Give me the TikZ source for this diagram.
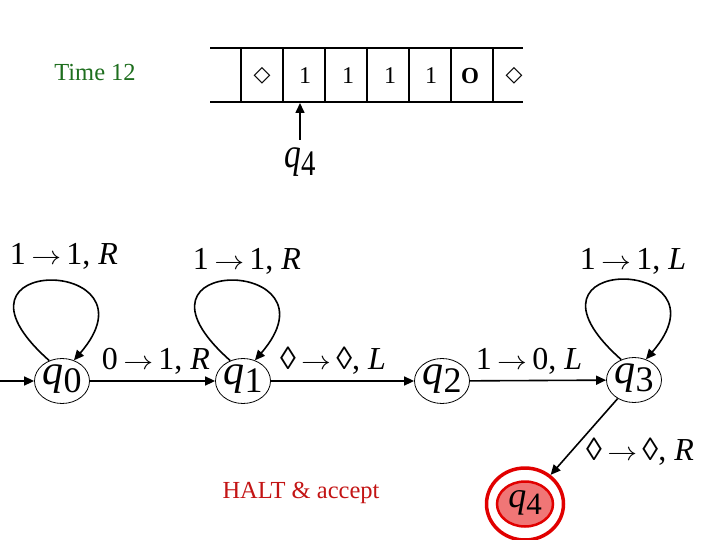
\documentclass[tikz,border=0pt]{standalone}
\usepackage{fontspec}
\setmainfont{Liberation Serif}
\newfontfamily\djv{DejaVu Sans}
\usepackage{graphicx}
\usetikzlibrary{arrows.meta,shapes.geometric}

\definecolor{timegreen}{RGB}{30,110,30}
\definecolor{haltred}{RGB}{195,20,20}
\definecolor{ringred}{RGB}{225,0,0}
\definecolor{qfourfill}{RGB}{240,118,118}

% q with subscript: #1 q size, #2 digit size, #3 digit drop, #4 digit
\newcommand\qlab[4]{{\fontsize{#1}{#1}\selectfont\textit{q}}\raisebox{-#3}{\fontsize{#2}{#2}\selectfont #4}}
\newcommand\inbox[2]{\smash{\makebox[0pt]{\raisebox{-#1}{#2}}}}
\newcommand\arr{\,\scalebox{1.2}[1.05]{$\rightarrow$}\,}
\newcommand\lz{◊}

\tikzset{
  state/.style={ellipse, draw, line width=0.8pt, inner sep=0pt,
    minimum width=55pt, minimum height=45pt},
  conn/.style={line width=1.6pt, -{Triangle[length=10pt,width=9pt]}},
  lbl/.style={inner sep=0pt, font=\fontsize{32}{34}\selectfont},
  tapeline/.style={line width=1.1pt},
  cell/.style={inner sep=0pt, font=\fontsize{24}{26}\selectfont},
}

\begin{document}
\begin{tikzpicture}[x=1pt,y=-1pt]
\useasboundingbox (0,0) rectangle (720,540);

% title
\node[inner sep=0pt, text=timegreen, font=\fontsize{24.5}{26}\selectfont] (time) at (95,73) {Time 12};

% tape
\draw[tapeline] (210,48) -- (523,48);
\draw[tapeline] (210,102) -- (523,102);
\foreach \x in {241,283,325,367,409,451,493}
  \draw[tapeline] (\x,48) -- (\x,102);
\node[cell, font=\djv\fontsize{22}{24}\selectfont] (c1) at (262,76) {◇};
\node[cell] (c2) at (305,76) {1};
\node[cell] (c3) at (348,76) {1};
\node[cell] (c4) at (390,76) {1};
\node[cell] (c5) at (431,76) {1};
\node[cell, font=\fontsize{23}{24}\selectfont\bfseries] (c6) at (470,76) {O};
\node[cell, font=\djv\fontsize{22}{24}\selectfont] (c7) at (514,76) {◇};

% head pointer
\node[inner sep=0pt, minimum width=34pt, minimum height=32pt] (head) at (300,164)
  {\inbox{4pt}{\scalebox{0.8}[1]{\qlab{42pt}{36pt}{8pt}{4}}}};
\coordinate (headtip) at (300,103);
\draw[conn] (300,140) -- (headtip);

% states
\node[state] (q0) at (62,381) {\inbox{3pt}{\qlab{42pt}{36pt}{8pt}{0}}};
\node[state] (q1) at (243,381) {\inbox{3pt}{\qlab{42pt}{36pt}{8pt}{1}}};
\node[state] (q2) at (442,381) {\inbox{3pt}{\qlab{42pt}{36pt}{8pt}{2}}};
\node[state] (q3) at (634,380) {\inbox{3pt}{\qlab{42pt}{36pt}{8pt}{3}}};
\node[ellipse, draw=ringred, line width=3.5pt, inner sep=0pt,
  minimum width=77pt, minimum height=72pt] (q4) at (525,504) {};
\node[ellipse, draw=ringred, fill=qfourfill, line width=2.5pt, inner sep=0pt,
  minimum width=56pt, minimum height=45pt] (q4in) at (525,504)
  {\inbox{3pt}{\qlab{36pt}{31pt}{7pt}{4}}};

% start arrow
\coordinate (start) at (0,381);
\draw[conn] (start) -- (q0);

% transitions
\draw[conn] (q0) -- (q1);
\draw[conn] (q1) -- (q2);
\draw[conn] (q2) -- (q3);
\draw[conn] (q3) -- (q4);

% loops
\draw[conn] (q0.122) .. controls +(-122,-108) and +(90,-104) .. (q0.60);
\draw[conn] (q1.122) .. controls +(-122,-108) and +(90,-104) .. (q1.60);
\draw[conn] (q3.122) .. controls +(-122,-108) and +(90,-104) .. (q3.60);

% labels
\node[lbl] (l00) at (64,256) {1\arr 1, \textit{R}};
\node[lbl] (l11) at (247,261) {1\arr 1, \textit{R}};
\node[lbl] (l33) at (633,261) {1\arr 1, \textit{L}};
\node[lbl] (l01) at (156,361) {0\arr 1, \textit{R}};
\node[lbl] (l12) at (333,361) {\lz\arr\lz, \textit{L}};
\node[lbl] (l23) at (529,361) {1\arr 0, \textit{L}};
\node[lbl] (l34) at (640,452) {\lz\arr\lz, \textit{R}};

% halt
\node[inner sep=0pt, text=haltred, font=\fontsize{24.5}{26}\selectfont] (halt) at (301,493) {HALT \& accept};
\end{tikzpicture}
\end{document}
